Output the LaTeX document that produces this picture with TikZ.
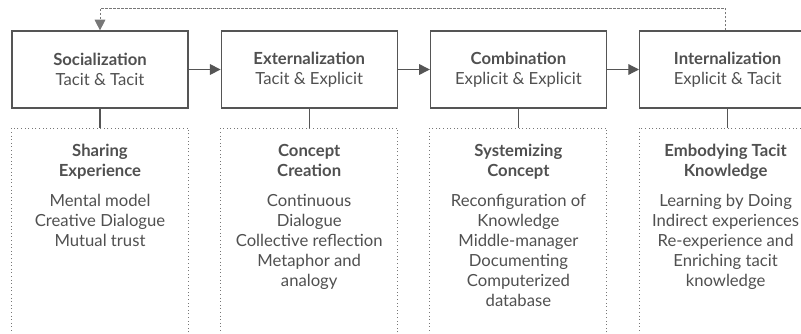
\documentclass[tikz,border=0pt]{standalone}
\usepackage{fontspec}
\setmainfont{Lato}
\usetikzlibrary{positioning,arrows.meta}
\definecolor{inkgray}{HTML}{505050}
\definecolor{linegray}{HTML}{555555}
\tikzset{
	mode/.style={draw=linegray, line width=0.9pt, minimum width=132pt, minimum height=57.75pt,
		align=center, text=inkgray, font=\fontsize{12.5}{15}\selectfont},
	detail/.style={draw=linegray!80, dotted, line width=0.7pt, minimum width=132.75pt, minimum height=163.5pt},
	detailtext/.style={align=center, text=inkgray, font=\fontsize{12.5}{15}\selectfont, inner sep=0pt, anchor=north},
	flow/.style={-{Triangle[length=8pt,width=8pt]}, draw=linegray, line width=0.9pt},
	link/.style={draw=linegray, line width=0.9pt},
	feedback/.style={-{Triangle[length=8pt,width=8pt]}, draw=linegray!80, dash pattern=on 2pt off 1pt, line width=0.7pt}
}
\begin{document}
\begin{tikzpicture}[x=0.75pt, y=-0.75pt, node distance=24pt]
	\useasboundingbox (0,0) rectangle (801,333);
	\clip (0,0) rectangle (801,333);
	% the four modes
	\node[mode] (soc) at (100,69.5) {\textbf{Socialization}\\Tacit \& Tacit};
	\node[mode, right=of soc] (ext) {\textbf{Externalization}\\Tacit \& Explicit};
	\node[mode, right=of ext] (com) {\textbf{Combination}\\Explicit \& Explicit};
	\node[mode, right=of com] (int) {\textbf{Internalization}\\Explicit \& Tacit};
	\draw[flow] (soc) -- (ext);
	\draw[flow] (ext) -- (com);
	\draw[flow] (com) -- (int);
	\draw[feedback] ([xshift=-1.5pt]int.north) -- ++(0,-22) -| (soc.north);
	% details below each mode
	\node[detail, below=14.25pt of soc] (socd) {};
	\node[detail, below=14.25pt of ext] (extd) {};
	\node[detail, below=14.25pt of com] (comd) {};
	\node[detail, below=14.25pt of int] (intd) {};
	\draw[link] (soc) -- (socd);
	\draw[link] (ext) -- (extd);
	\draw[link] (com) -- (comd);
	\draw[link] (int) -- (intd);
	\node[detailtext] (socdt) at ([yshift=-12pt]socd.north)
		{\textbf{Sharing}\\\textbf{Experience}\\[8pt]Mental model\\Creative Dialogue\\Mutual trust};
	\node[detailtext] (extdt) at ([yshift=-12pt]extd.north)
		{\textbf{Concept}\\\textbf{Creation}\\[8pt]Continuous\\Dialogue\\Collective reflection\\Metaphor and\\analogy};
	\node[detailtext] (comdt) at ([yshift=-12pt]comd.north)
		{\textbf{Systemizing}\\\textbf{Concept}\\[8pt]Reconfiguration of\\Knowledge\\Middle-manager\\Documenting\\Computerized\\database};
	\node[detailtext] (intdt) at ([xshift=-1.5pt,yshift=-12pt]intd.north)
		{\textbf{Embodying Tacit}\\\textbf{Knowledge}\\[8pt]Learning by Doing\\Indirect experiences\\Re-experience and\\Enriching tacit\\knowledge};
\end{tikzpicture}
\end{document}
